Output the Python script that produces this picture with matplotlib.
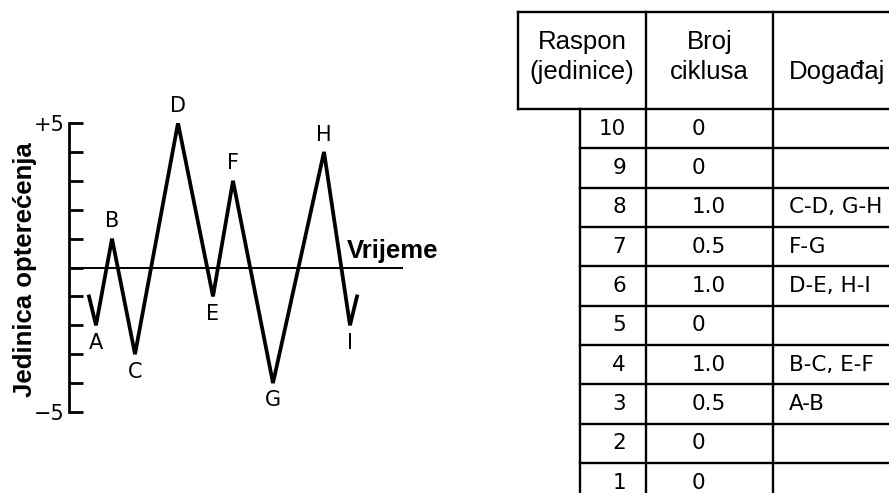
import matplotlib.pyplot as plt

# load history (time in arbitrary units, load in units)
time = [0, 0.7, 2.3, 4.6, 8.9, 12.4, 14.4, 18.4, 23.5, 26.1, 26.8]
load = [-1, -2, 1, -3, 5, -1, 3, -4, 4, -2, -1]
point_names = ['', 'A', 'B', 'C', 'D', 'E', 'F', 'G', 'H', 'I', '']

# rainflow count table
ranges = [10, 9, 8, 7, 6, 5, 4, 3, 2, 1]
cycles = ['0', '0', '1.0', '0.5', '1.0', '0', '1.0', '0.5', '0', '0']
events = ['', '', 'C-D, G-H', 'F-G', 'D-E, H-I', '', 'B-C, E-F', 'A-B', '', '']
headers = ['Raspon\n(jedinice)', 'Broj\nciklusa', 'Događaj']

W, H = 889, 493
fig = plt.figure(figsize=(W / 100, H / 100), dpi=100)

# ---- table, drawn in pixel coordinates ----
tab = fig.add_axes([0, 0, 1, 1])
tab.set_xlim(0, W)
tab.set_ylim(H, 0)
tab.axis('off')
tab.patch.set_visible(False)

hdr_left, body_left, c1, c2, right = 518, 580, 646, 773, W + 20
hdr_top, hdr_bot, row_h = 12, 109, 39.35
bottom = hdr_bot + row_h * len(ranges)
lw = 1.7
kw = dict(color='black', lw=lw, clip_on=False, solid_capstyle='projecting')

tab.plot([hdr_left, right], [hdr_top, hdr_top], **kw)
tab.plot([hdr_left, right], [hdr_bot, hdr_bot], **kw)
tab.plot([hdr_left, hdr_left], [hdr_top, hdr_bot], **kw)
tab.plot([body_left, body_left], [hdr_bot, bottom], **kw)
for x in (c1, c2):
    tab.plot([x, x], [hdr_top, bottom], **kw)
for i in range(1, len(ranges) + 1):
    y = hdr_bot + i * row_h
    tab.plot([body_left, right], [y, y], **kw)

hfont = dict(family='Liberation Sans', fontsize=18.5)
tab.text((hdr_left + c1) / 2, 57, headers[0], ha='center', va='center',
         linespacing=1.3, **hfont)
tab.text((c1 + c2) / 2, 57, headers[1], ha='center', va='center',
         linespacing=1.3, **hfont)
tab.text(789, 72, headers[2], ha='left', va='center', **hfont)

bfont = dict(family='DejaVu Sans', fontsize=15.5)
for i, (r, c, e) in enumerate(zip(ranges, cycles, events)):
    yc = hdr_bot + (i + 0.5) * row_h
    tab.text(626, yc, str(r), ha='right', va='center', **bfont)
    tab.text(692, yc, c, ha='left', va='center', **bfont)
    if e:
        tab.text(789, yc, e, ha='left', va='center', **bfont)

# ---- load history chart ----
ax = fig.add_axes([69 / W, (H - 412) / H, (403 - 69) / W, (412 - 123) / H])
ax.patch.set_visible(False)
ax.set_xlim(-2.0, 31.4)
ax.set_ylim(-5, 5)
for s in ('top', 'right', 'bottom'):
    ax.spines[s].set_visible(False)
ax.spines['left'].set_linewidth(2.0)
ax.set_xticks([])
ax.set_yticks(range(-5, 6))
ax.set_yticklabels(['\u22125'] + [''] * 9 + ['+5'], family='DejaVu Sans', fontsize=15)
ax.tick_params(axis='y', direction='in', length=10, width=2.0, pad=3.5)

ax.axhline(0, color='black', lw=1.4)
ax.plot(time, load, color='black', lw=2.7, solid_joinstyle='miter')

for i, name in enumerate(point_names):
    if not name:
        continue
    up = load[i] > load[i - 1]
    ax.annotate(name, (time[i], load[i]), xytext=(0, 12.5 if up else -12.5),
                textcoords='offset points', ha='center', va='center',
                family='DejaVu Sans', fontsize=15, annotation_clip=False)

ax.annotate('Vrijeme', (25.8, 0), xytext=(0, 7), textcoords='offset points',
            ha='left', va='baseline', family='Liberation Sans',
            fontweight='bold', fontsize=18.5, annotation_clip=False)

fig.text(25 / W, (H - 270) / H, 'Jedinica opterećenja', rotation=90,
         ha='center', va='center', family='Liberation Sans',
         fontweight='bold', fontsize=18.5)

fig.savefig('out.png', dpi=100)
